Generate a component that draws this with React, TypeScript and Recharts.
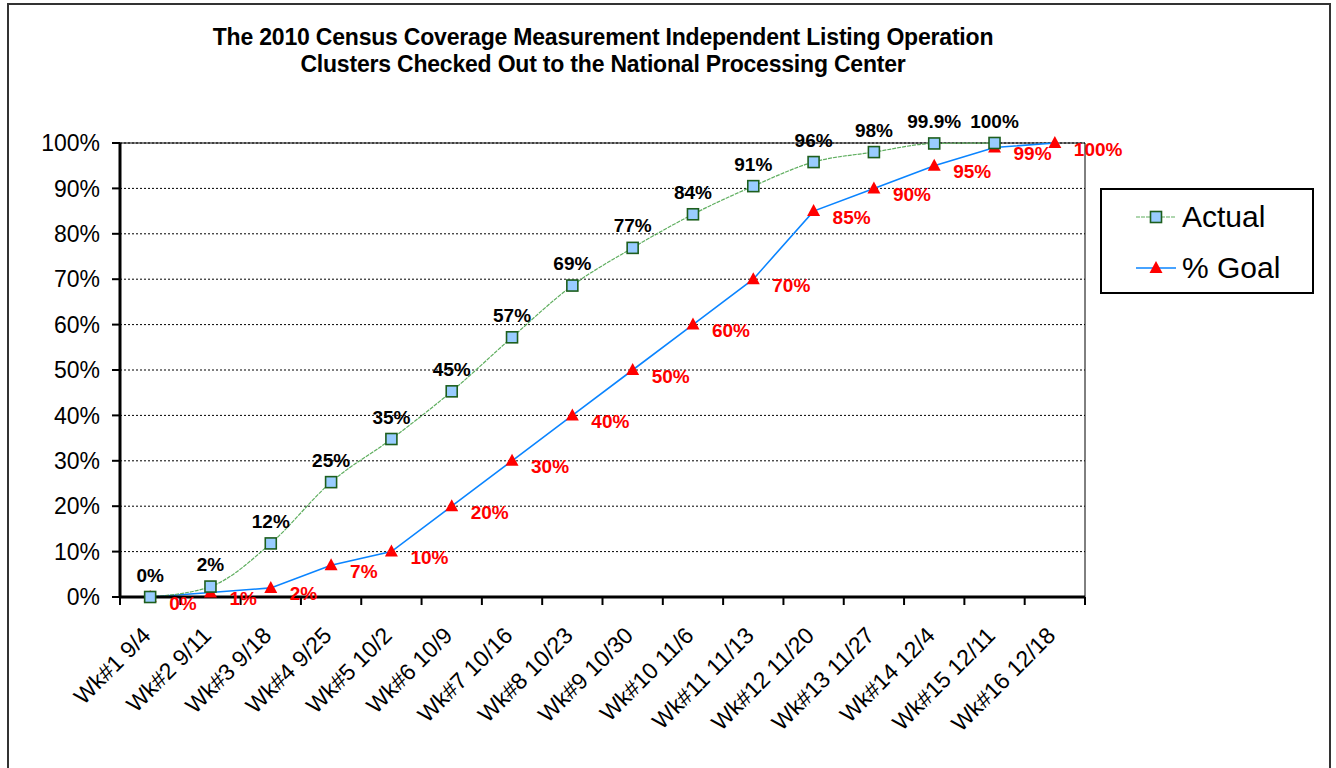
import {
  LineChart,
  Line,
  XAxis,
  YAxis,
  CartesianGrid,
  ReferenceLine,
  LabelList,
} from 'recharts';

const weeks = [
  'Wk#1 9/4', 'Wk#2 9/11', 'Wk#3 9/18', 'Wk#4 9/25', 'Wk#5 10/2', 'Wk#6 10/9',
  'Wk#7 10/16', 'Wk#8 10/23', 'Wk#9 10/30', 'Wk#10 11/6', 'Wk#11 11/13',
  'Wk#12 11/20', 'Wk#13 11/27', 'Wk#14 12/4', 'Wk#15 12/11', 'Wk#16 12/18',
];
const actual = [0, 2.3, 11.8, 25.3, 34.8, 45.3, 57.2, 68.6, 76.9, 84.3, 90.5, 95.8, 98, 99.9, 100, null];
const actualLabels = ['0%', '2%', '12%', '25%', '35%', '45%', '57%', '69%', '77%', '84%', '91%', '96%', '98%', '99.9%', '100%', ''];
const goal = [0, 1, 2, 7, 10, 20, 30, 40, 50, 60, 70, 85, 90, 95, 99, 100];
const goalLabels = ['0%', '1%', '2%', '7%', '10%', '20%', '30%', '40%', '50%', '60%', '70%', '85%', '90%', '95%', '99%', '100%'];
const yTicks = [0, 10, 20, 30, 40, 50, 60, 70, 80, 90, 100];
const xTicks = weeks.map((_, i) => i).concat([weeks.length]);

const data = weeks.map((w, i) => ({ x: i + 0.5, week: w, actual: actual[i], goal: goal[i] }));

const W = 1336;
const H = 768;
const margin = { top: 143, right: 251, left: 60, bottom: 51 };
const PLOT_W = W - margin.left - 60 - margin.right;
const BAND = PLOT_W / weeks.length;
const FONT = '"Liberation Sans", Arial, sans-serif';

const SquareDot = (props: any) => {
  const { cx, cy, index } = props;
  if (cx == null || cy == null || props.value == null) return <g key={`s${index}`} />;
  return (
    <rect key={`s${index}`} x={cx - 5.5} y={cy - 5.5} width={11} height={11}
      fill="#99ccff" stroke="#1d5e1d" strokeWidth={1.6} />
  );
};

const TriDot = (props: any) => {
  const { cx, cy, index } = props;
  if (cx == null || cy == null) return <g key={`t${index}`} />;
  return (
    <polygon key={`t${index}`} points={`${cx},${cy - 7} ${cx - 6.5},${cy + 5} ${cx + 6.5},${cy + 5}`} fill="#ff0000" />
  );
};

const XTick = (props: any) => {
  const { x, y, payload } = props;
  const i = payload.value;
  if (i >= weeks.length) return <g />;
  const ax = x + BAND / 2 + 2;
  const ay = y + 30;
  return (
    <text x={ax} y={ay} textAnchor="end" fontSize={23} fontFamily={FONT} fill="#000"
      transform={`rotate(-45 ${ax} ${ay})`}>
      {weeks[i]}
    </text>
  );
};

export default function App() {
  return (
    <div style={{ position: 'absolute', left: 0, top: 0, width: W, height: H, background: '#fff', overflow: 'hidden' }}>
      <div style={{ position: 'absolute', left: 7, top: 3, width: 1320, height: 800, border: '2px solid #333' }} />
      <div style={{
        position: 'absolute', left: 0, top: 24, width: 1206, textAlign: 'center',
        fontFamily: FONT, fontWeight: 'bold', fontSize: 23, lineHeight: '27px', color: '#000',
        letterSpacing: '-0.2px',
      }}>
        The 2010 Census Coverage Measurement Independent Listing Operation<br />
        Clusters Checked Out to the National Processing Center
      </div>
      <div style={{ position: 'absolute', left: 0, top: 0 }}>
        <LineChart width={W} height={H} data={data} margin={margin}>
          <CartesianGrid vertical={false} stroke="#000" strokeDasharray="2 2" />
          <XAxis
            dataKey="x"
            type="number"
            domain={[0, weeks.length]}
            ticks={xTicks}
            interval={0}
            height={120}
            tickSize={8}
            tick={<XTick />}
            axisLine={{ stroke: '#000', strokeWidth: 3 }}
            tickLine={{ stroke: '#000', strokeWidth: 2 }}
          />
          <YAxis
            type="number"
            domain={[0, 100]}
            ticks={yTicks}
            width={60}
            tickSize={8}
            tickMargin={12}
            tickFormatter={(v: number) => `${v}%`}
            tick={{ fontSize: 23, fill: '#000', fontFamily: FONT }}
            axisLine={{ stroke: '#000', strokeWidth: 3 }}
            tickLine={{ stroke: '#000', strokeWidth: 2 }}
          />
          <ReferenceLine y={100} stroke="#000" strokeWidth={1} />
          <ReferenceLine x={weeks.length} stroke="#000" strokeWidth={1} />
          <Line
            type="linear"
            dataKey="goal"
            stroke="#0a84ff"
            strokeWidth={1.6}
            dot={<TriDot />}
            isAnimationActive={false}
          >
            <LabelList
              dataKey="goal"
              content={(p: any) => (
                <text x={p.x + 19} y={p.y + 6} dominantBaseline="central" fill="#ff0000"
                  fontSize={19} fontWeight="bold" fontFamily={FONT}>
                  {goalLabels[p.index]}
                </text>
              )}
            />
          </Line>
          <Line
            type="monotone"
            dataKey="actual"
            stroke="#5fae5f"
            strokeWidth={1.2}
            strokeDasharray="4 1"
            dot={<SquareDot />}
            connectNulls={false}
            isAnimationActive={false}
          >
            <LabelList
              dataKey="actual"
              content={(p: any) =>
                p.value == null ? null : (
                  <text x={p.x} y={p.y - 22} textAnchor="middle" dominantBaseline="central" fill="#000"
                    fontSize={19} fontWeight="bold" fontFamily={FONT}>
                    {actualLabels[p.index]}
                  </text>
                )
              }
            />
          </Line>
        </LineChart>
      </div>
      <div style={{
        position: 'absolute', left: 1100, top: 188, width: 210, height: 102,
        border: '2px solid #000', fontFamily: FONT, fontSize: 30, color: '#000',
      }}>
        <div style={{ position: 'absolute', left: 34, top: 10, display: 'flex', alignItems: 'center' }}>
          <svg width={42} height={20}>
            <line x1={0} y1={10} x2={40} y2={10} stroke="#5fae5f" strokeWidth={1.2} strokeDasharray="4 1" />
            <rect x={14.5} y={4.5} width={11} height={11} fill="#99ccff" stroke="#1d5e1d" strokeWidth={1.6} />
          </svg>
          <span style={{ marginLeft: 4 }}>Actual</span>
        </div>
        <div style={{ position: 'absolute', left: 34, top: 61, display: 'flex', alignItems: 'center' }}>
          <svg width={42} height={20}>
            <line x1={0} y1={10} x2={40} y2={10} stroke="#0a84ff" strokeWidth={1.6} />
            <polygon points="20,3 13.5,15 26.5,15" fill="#ff0000" />
          </svg>
          <span style={{ marginLeft: 4 }}>% Goal</span>
        </div>
      </div>
    </div>
  );
}
